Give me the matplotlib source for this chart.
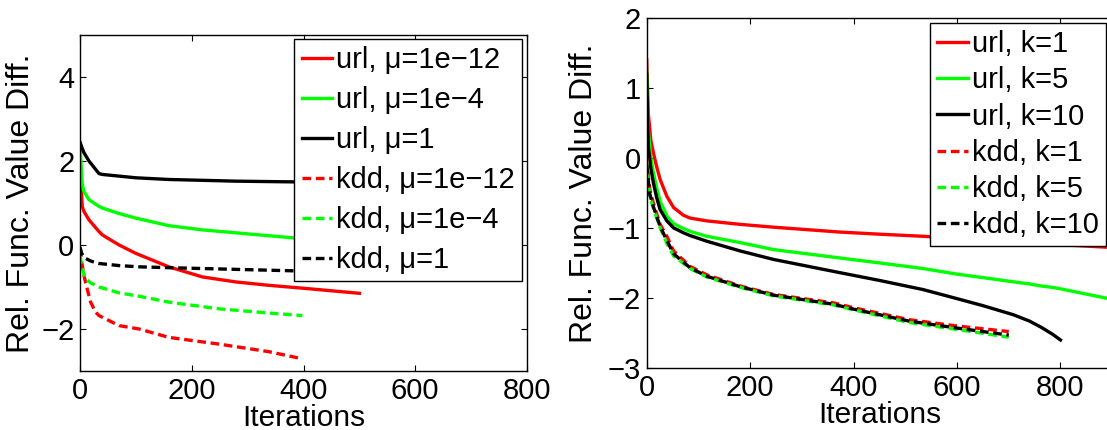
import matplotlib
matplotlib.use('Agg')
import matplotlib.pyplot as plt

plt.rcParams['font.family'] = ['Liberation Sans', 'DejaVu Sans']

# ---- left panel: different mu ----
url_x = [0, 4, 7, 16, 34, 40, 70, 100, 159, 219, 279, 338, 400, 450, 500]
url_mu12 = [1.9, 0.92, 0.80, 0.60, 0.32, 0.24, 0.0, -0.2, -0.52, -0.76, -0.88,
            -0.96, -1.03, -1.09, -1.15]
url_mu4 = [2.4, 1.45, 1.28, 1.08, 0.92, 0.88, 0.75, 0.64, 0.46, 0.36, 0.29,
           0.22, 0.15, 0.10, 0.06]
url_mu1 = [2.45, 2.3, 2.2, 2.0, 1.70, 1.68, 1.64, 1.60, 1.56, 1.54, 1.52,
           1.51, 1.50, 1.49, 1.48]

kdd_x = [0, 3, 7, 10, 19, 28, 34, 70, 106, 159, 249, 338, 398]
kdd_mu12 = [-0.08, -0.4, -0.72, -0.9, -1.36, -1.6, -1.68, -1.92, -2.0, -2.2,
            -2.36, -2.54, -2.71]
kdd_mu4 = [-0.24, -0.5, -0.7, -0.8, -0.9, -0.96, -1.0, -1.14, -1.22, -1.36,
           -1.52, -1.62, -1.68]
kdd_mu1 = [-0.05, -0.2, -0.28, -0.32, -0.38, -0.42, -0.44, -0.49, -0.52, -0.54,
           -0.57, -0.60, -0.62]

# ---- right panel: different k ----
urlk_x = [0, 3, 8, 13, 19, 26, 39, 52, 71, 84, 116, 181, 245, 374, 450, 534,
          600, 650, 709, 740, 763, 785, 800, 900]
url_k1 = [1.40, 0.64, 0.25, 0.07, -0.12, -0.31, -0.55, -0.71, -0.82, -0.86,
          -0.90, -0.95, -0.99, -1.06, -1.09, -1.12, -1.15, -1.17, -1.20, -1.21,
          -1.22, -1.23, -1.24, -1.28]
url_k5 = [1.24, 0.40, 0.0, -0.21, -0.42, -0.62, -0.83, -0.94, -1.01, -1.05,
          -1.12, -1.21, -1.31, -1.43, -1.50, -1.58, -1.66, -1.71, -1.77, -1.80,
          -1.83, -1.85, -1.87, -2.02]
url_k10 = [1.19, 0.17, -0.15, -0.36, -0.56, -0.74, -0.90, -1.0, -1.07, -1.11,
           -1.19, -1.33, -1.45, -1.64, -1.75, -1.88, -2.01, -2.11, -2.24, -2.33,
           -2.42, -2.52, -2.60]

kddk_x = [0, 3, 6, 13, 19, 26, 39, 52, 84, 116, 181, 245, 361, 400, 507, 600, 700]
kdd_k1 = [0.0, -0.25, -0.45, -0.65, -0.79, -0.95, -1.12, -1.33, -1.55, -1.67,
          -1.83, -1.95, -2.07, -2.14, -2.31, -2.40, -2.48]
kdd_k5 = [-0.05, -0.35, -0.55, -0.72, -0.85, -1.0, -1.22, -1.40, -1.58, -1.70,
          -1.85, -1.97, -2.10, -2.17, -2.35, -2.45, -2.56]
kdd_k10 = [-0.1, -0.32, -0.52, -0.70, -0.83, -0.98, -1.18, -1.37, -1.57, -1.69,
           -1.84, -1.96, -2.09, -2.16, -2.33, -2.43, -2.53]

W, H = 1107, 430
fig = plt.figure(figsize=(W / 100, H / 100), dpi=100)

RED, GREEN, BLACK = '#ff0000', '#00ff00', '#000000'
lw = 2.4
dash = (2.6, 1.4)
fs_tick = 21
fs_xlab = 21.5
fs_ylab = 23
fs_leg = 21


def style(ax, ylab_x, xlab_y):
    ax.tick_params(direction='in', length=4, width=0.8, top=True, right=True,
                   labelsize=fs_tick, pad=4)
    for s in ax.spines.values():
        s.set_linewidth(1.0)
    ax.set_xlabel('Iterations', fontsize=fs_xlab)
    ax.set_ylabel('Rel. Func. Value Diff.', fontsize=fs_ylab)
    ax.yaxis.set_label_coords(ylab_x, 0.5)
    ax.xaxis.set_label_coords(0.5, xlab_y)


def add_legend(ax, x_right, y_top, spacing):
    leg = ax.legend(loc='upper right', bbox_to_anchor=(x_right / W, 1 - y_top / H),
                    bbox_transform=fig.transFigure, fontsize=fs_leg, frameon=True,
                    fancybox=False, framealpha=1, edgecolor='black',
                    handlelength=1.05, handletextpad=0.13, labelspacing=spacing,
                    borderpad=0.25, borderaxespad=0)
    leg.get_frame().set_linewidth(1.0)
    return leg


ax1 = fig.add_axes([80 / W, 1 - 371 / H, 447 / W, 336 / H])
ax1.plot(url_x, url_mu12, color=RED, lw=lw, label='url, μ=1e−12')
ax1.plot(url_x, url_mu4, color=GREEN, lw=lw, label='url, μ=1e−4')
ax1.plot(url_x, url_mu1, color=BLACK, lw=lw, label='url, μ=1')
ax1.plot(kdd_x, kdd_mu12, color=RED, lw=lw, dashes=dash, label='kdd, μ=1e−12')
ax1.plot(kdd_x, kdd_mu4, color=GREEN, lw=lw, dashes=dash, label='kdd, μ=1e−4')
ax1.plot(kdd_x, kdd_mu1, color=BLACK, lw=lw, dashes=dash, label='kdd, μ=1')
ax1.set_xlim(0, 800)
ax1.set_ylim(-3, 5)
ax1.set_xticks([0, 200, 400, 600, 800])
ax1.set_yticks([-2, 0, 2, 4])
style(ax1, (36 - 80) / 447, -33 / 336)
add_legend(ax1, 522, 39, 0.41)

ax2 = fig.add_axes([646.7 / W, 1 - 368 / H, 465.5 / W, 350.3 / H])
ax2.plot(urlk_x, url_k1, color=RED, lw=lw, label='url, k=1')
ax2.plot(urlk_x, url_k5, color=GREEN, lw=lw, label='url, k=5')
ax2.plot(urlk_x[:len(url_k10)], url_k10, color=BLACK, lw=lw, label='url, k=10')
ax2.plot(kddk_x, kdd_k1, color=RED, lw=lw, dashes=dash, label='kdd, k=1')
ax2.plot(kddk_x, kdd_k5, color=GREEN, lw=lw, dashes=dash, label='kdd, k=5')
ax2.plot(kddk_x, kdd_k10, color=BLACK, lw=lw, dashes=dash, label='kdd, k=10')
ax2.set_xlim(0, 900)
ax2.set_ylim(-3, 2)
ax2.set_xticks([0, 200, 400, 600, 800])
ax2.set_yticks([-3, -2, -1, 0, 1, 2])
style(ax2, (599 - 646.7) / 465.5, -33 / 350.3)
add_legend(ax2, 1106, 23, 0.28)

fig.savefig('out.png', dpi=100)
